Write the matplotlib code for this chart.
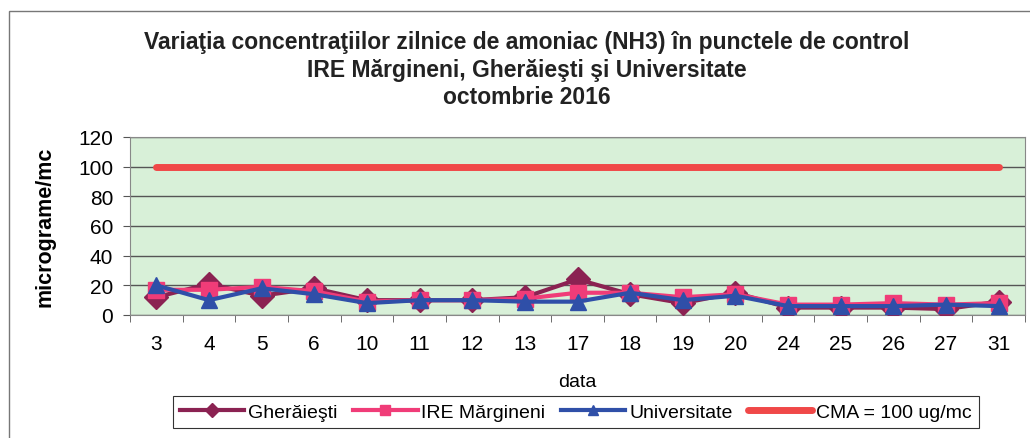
import numpy as np
import matplotlib.pyplot as plt
from matplotlib.patches import Rectangle

plt.rcParams['font.family'] = ['Liberation Sans', 'DejaVu Sans']

# zilele din octombrie 2016
zile = ['3', '4', '5', '6', '10', '11', '12', '13', '17', '18', '19', '20',
        '24', '25', '26', '27', '31']

gheraiesti = [12, 21, 13, 18, 10, 10, 10, 12, 24, 14, 8, 15, 5, 5, 5, 4, 9]
ire_margineni = [17, 17, 19, 16, 9, 10, 10, 11, 15, 15, 12, 14, 7, 7, 8, 7, 8]
universitate = [20, 10, 18, 14, 8, 10, 10, 9, 9, 15, 10, 13, 6, 6, 6, 7, 6]
cma = [100] * len(zile)

x = np.arange(len(zile))

fig = plt.figure(figsize=(10.3, 4.39), dpi=100)
ax = fig.add_axes([130 / 1030, 1 - 316 / 439, 895 / 1030, 178 / 439])
ax.set_facecolor('#d8f0d8')

# chenarul graficului
fig.patches.append(Rectangle((9 / 1030, -0.05), 1.1, 1 - 12 / 439 + 0.05,
                             transform=fig.transFigure, fill=False,
                             edgecolor='#777777', linewidth=1.0))

ax.plot(x, gheraiesti, color='#8b2252', marker='D', markersize=12,
        linewidth=3, label='Gherăieşti', zorder=3)
ax.plot(x, ire_margineni, color='#f03c78', marker='s', markersize=11,
        linewidth=3, label='IRE Mărgineni', zorder=4)
ax.plot(x, universitate, color='#2f4fa8', marker='^', markersize=12,
        linewidth=3, label='Universitate', zorder=5)
ax.plot(x, cma, color='#f04848', linewidth=5, solid_capstyle='round',
        label='CMA = 100 ug/mc', zorder=2)

ax.set_xlim(-0.5, len(zile) - 0.5)
ax.set_ylim(0, 120)
ax.set_yticks(range(0, 121, 20))
ax.set_xticks(x)
ax.set_xticklabels(zile)
ax.set_xticks(np.arange(-0.5, len(zile), 1), minor=True)
ax.tick_params(axis='x', which='major', length=0, labelsize=15, pad=14)
ax.tick_params(axis='x', which='minor', length=5, color='#555555')
ax.tick_params(axis='y', length=5, labelsize=15, color='#555555', pad=7)
ax.yaxis.grid(True, color='#555555', linewidth=1)
ax.set_axisbelow(True)
for s in ax.spines.values():
    s.set_color('#888888')

ax.set_ylabel('micrograme/mc', fontsize=15.5, fontweight='bold', labelpad=16)
ax.set_xlabel('data', fontsize=14, labelpad=14)

titlu = ['Variaţia concentraţiilor zilnice de amoniac (NH3) în punctele de control',
         'IRE Mărgineni, Gherăieşti şi Universitate',
         'octombrie 2016']
for i, t in enumerate(titlu):
    fig.text(527 / 1030, 1 - (42 + 28 * i) / 439, t, ha='center', va='center',
             fontsize=16.5, fontweight='bold', color='#222222')

leg = fig.legend(loc='center', bbox_to_anchor=(576 / 1030, 1 - 413 / 439), ncol=4,
                 fontsize=14, frameon=True, fancybox=False, edgecolor='black',
                 handlelength=3.3, handletextpad=0.2, columnspacing=0.8,
                 borderpad=0.35, markerscale=0.6)
leg.get_frame().set_linewidth(0.8)

fig.savefig('out.png', dpi=100)
